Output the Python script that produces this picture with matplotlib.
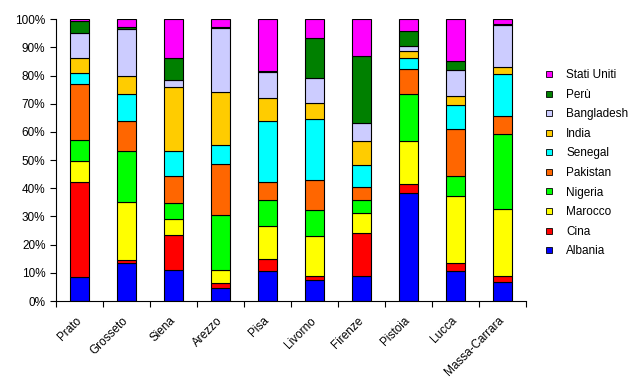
import numpy as np
import matplotlib
matplotlib.use("Agg")
import matplotlib.pyplot as plt
from matplotlib.lines import Line2D

plt.rcParams["font.family"] = ["Liberation Sans", "DejaVu Sans"]

# -----------------------------
# DATA (share of foreign residents, %)
# -----------------------------
province = ["Prato", "Grosseto", "Siena", "Arezzo", "Pisa", "Livorno",
            "Firenze", "Pistoia", "Lucca", "Massa-Carrara"]

albania = [8.5, 13.4, 11.0, 4.5, 10.6, 7.4, 8.8, 38.4, 10.6, 6.7]
cina = [33.8, 1.2, 12.4, 1.8, 4.2, 1.4, 15.3, 3.2, 2.8, 2.1]
marocco = [7.5, 20.6, 5.7, 4.6, 11.8, 14.2, 7.1, 15.3, 23.9, 23.9]
nigeria = [7.4, 18.1, 5.7, 19.6, 9.3, 9.3, 4.7, 16.4, 7.1, 26.7]
pakistan = [19.9, 10.7, 9.6, 18.2, 6.4, 10.7, 4.6, 8.9, 16.8, 6.4]
senegal = [3.7, 9.3, 8.9, 6.8, 21.7, 21.7, 7.8, 3.9, 8.5, 14.6]
india = [5.3, 6.4, 22.8, 18.5, 8.2, 5.4, 8.6, 2.5, 3.2, 2.5]
bangladesh = [8.9, 16.7, 2.2, 22.8, 8.9, 8.9, 6.4, 1.8, 8.9, 15.0]
peru = [4.3, 0.7, 7.8, 0.3, 0.6, 14.2, 23.5, 5.3, 3.2, 0.3]
stati_uniti = [0.7, 2.9, 13.9, 2.9, 18.3, 6.8, 13.2, 4.3, 15.0, 1.8]

series = [
    ("Albania", albania, "#0000FF"),
    ("Cina", cina, "#FF0000"),
    ("Marocco", marocco, "#FFFF00"),
    ("Nigeria", nigeria, "#00FF00"),
    ("Pakistan", pakistan, "#FF6600"),
    ("Senegal", senegal, "#00FFFF"),
    ("India", india, "#FFCC00"),
    ("Bangladesh", bangladesh, "#CCCCFF"),
    ("Perù", peru, "#008000"),
    ("Stati Uniti", stati_uniti, "#FF00FF"),
]

# -----------------------------
# PLOT
# -----------------------------
fig = plt.figure(figsize=(6.35, 3.91), dpi=100)
ax = fig.add_axes([0.088, 0.230, 0.740, 0.721])

x = np.arange(len(province))
totals = np.sum([s[1] for s in series], axis=0)
bottom = np.zeros(len(province))
for name, vals, col in series:
    share = np.array(vals) / totals
    ax.bar(x, share, 0.4, bottom=bottom, color=col, edgecolor="black",
           linewidth=0.8, label=name)
    bottom += share

ax.set_xlim(-0.5, len(province) - 0.5)
ax.set_ylim(0, 1)
ax.set_yticks(np.arange(0, 1.01, 0.1))
ax.set_yticklabels([f"{i}%" for i in range(0, 101, 10)], fontsize=8.5)
ax.set_xticks(np.arange(-0.5, len(province), 1))
ax.set_xticklabels([])
ax.set_xticks(x, minor=True)
ax.set_xticklabels(province, minor=True, rotation=45, ha="right",
                   va="center", rotation_mode="anchor", fontsize=8.5)
ax.tick_params(axis="x", which="minor", length=0, pad=13)
ax.tick_params(axis="both", which="major", length=4, width=0.8)
ax.spines["top"].set_visible(False)
ax.spines["right"].set_visible(False)

handles = [Line2D([], [], marker="s", linestyle="", markersize=5,
                  markerfacecolor=col, markeredgecolor="black",
                  markeredgewidth=0.6) for _, _, col in series][::-1]
labels = [s[0] for s in series][::-1]
fig.legend(handles, labels, loc="upper left", bbox_to_anchor=(0.830, 0.85),
           frameon=False, fontsize=8.5, labelspacing=0.64, handletextpad=0.4)

plt.savefig("out.png", dpi=100)
